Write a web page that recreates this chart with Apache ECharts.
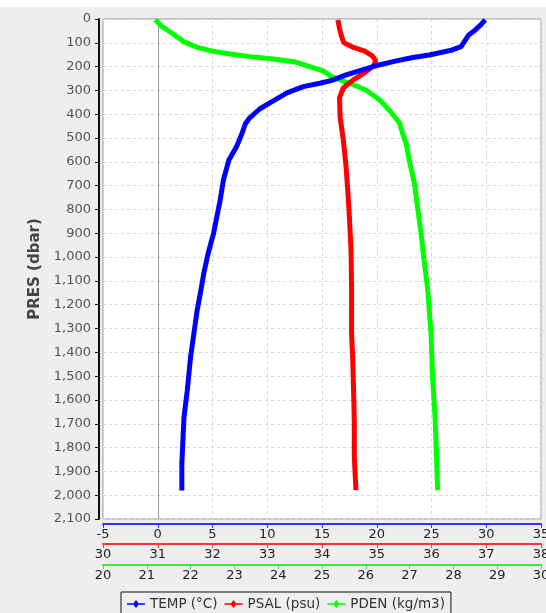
<!DOCTYPE html>
<html><head><meta charset="utf-8">
<script src="https://cdn.jsdelivr.net/npm/echarts@6/dist/echarts.min.js"></script>
<style>
html,body{margin:0;padding:0;background:#fff;}
#c{position:absolute;left:0;top:0;width:546px;height:613px;}
</style></head>
<body>
<div id="c"></div>
<script>
// Pressure (dbar) and values for each profile
const tempPres = [4, 25, 46, 67, 95, 116, 130, 151, 162, 176, 193, 214, 235, 258, 270, 284, 310, 340, 378, 415, 440, 480, 536, 592, 676, 761, 830, 900, 985, 1069, 1150, 1223, 1321, 1419, 1559, 1671, 1769, 1867, 1980];
const tempVals = [29.9, 29.5, 29.0, 28.4, 28.0, 27.7, 26.9, 24.8, 23.3, 21.8, 20.2, 18.7, 17.2, 15.9, 14.8, 13.3, 11.8, 10.7, 9.3, 8.4, 8.0, 7.7, 7.2, 6.5, 6.0, 5.7, 5.4, 5.1, 4.6, 4.2, 3.9, 3.6, 3.3, 3.0, 2.7, 2.4, 2.3, 2.2, 2.2];

const psalPres = [4, 40, 75, 100, 118, 135, 155, 175, 195, 225, 258, 290, 330, 410, 510, 621, 718, 830, 971, 1130, 1321, 1419, 1587, 1699, 1839, 1979];
const psalVals = [34.29, 34.32, 34.36, 34.40, 34.56, 34.78, 34.92, 34.98, 34.95, 34.78, 34.56, 34.39, 34.32, 34.33, 34.39, 34.44, 34.47, 34.50, 34.53, 34.54, 34.54, 34.56, 34.58, 34.59, 34.59, 34.62];

const pdenPres = [3, 32, 60, 95, 119, 133, 147, 158, 168, 181, 198, 218, 244, 270, 298, 340, 390, 437, 480, 521, 592, 690, 789, 900, 1013, 1130, 1321, 1489, 1671, 1811, 1979];
const pdenVals = [21.19, 21.35, 21.58, 21.84, 22.15, 22.45, 22.90, 23.36, 23.89, 24.40, 24.68, 25.02, 25.24, 25.63, 26.00, 26.32, 26.57, 26.77, 26.84, 26.92, 26.99, 27.11, 27.18, 27.26, 27.33, 27.41, 27.49, 27.52, 27.58, 27.61, 27.64];

const presTicks = {min: 0, max: 2100, interval: 100};
const tempAxis = {min: -5, max: 35, interval: 5};
const psalAxis = {min: 30, max: 38, interval: 1};
const pdenAxis = {min: 20, max: 30, interval: 1};
const seriesNames = ['TEMP (°C)', 'PSAL (psu)', 'PDEN (kg/m3)'];

const pair = (vals, pres) => vals.map((v, i) => [v, pres[i]]);
const FONT = 'DejaVu Sans';
const legendIcon = 'path://M0,4.2 L6.5,4.2 L9,1 L11.5,4.2 L18,4.2 L18,5.8 L11.5,5.8 L9,9 L6.5,5.8 L0,5.8 Z';

function xAx(cfg, color, offset, split) {
  return {
    type: 'value', position: 'bottom', offset: offset,
    min: cfg.min, max: cfg.max, interval: cfg.interval,
    axisLine: {show: true, onZero: false, lineStyle: {color: color, width: 2}},
    axisTick: {show: true, length: 4, lineStyle: {color: color, width: 1}},
    axisLabel: {color: '#222', fontFamily: FONT, fontSize: 13, margin: 4, hideOverlap: false},
    splitLine: split ? {show: true, lineStyle: {color: '#d8d8d8', type: [3, 3]}} : {show: false}
  };
}

const chart = echarts.init(document.getElementById('c'), null, {renderer: 'canvas'});
chart.setOption({
  backgroundColor: '#eeeeee',
  animation: false,
  graphic: [{type: 'rect', left: 0, top: 0, z: -10, shape: {width: 546, height: 7}, style: {fill: '#ffffff'}}],
  grid: {left: 103, top: 19, width: 438, height: 500, show: true, backgroundColor: '#ffffff',
         borderColor: '#999999', borderWidth: 1, containLabel: false, outerBoundsMode: 'none'},
  legend: {
    left: 121, top: 592, orient: 'horizontal',
    data: seriesNames, icon: legendIcon, itemWidth: 18, itemHeight: 10, itemGap: 7,
    borderColor: '#111', borderWidth: 1, padding: [5, 6, 8, 6],
    textStyle: {fontFamily: FONT, fontSize: 13.5, color: '#333'}
  },
  xAxis: [
    xAx(tempAxis, '#3333ff', 5, true),
    xAx(psalAxis, '#ff3333', 25, false),
    xAx(pdenAxis, '#33ee33', 46, false)
  ],
  yAxis: {
    type: 'value', inverse: true, min: presTicks.min, max: presTicks.max, interval: presTicks.interval,
    offset: 4,
    name: 'PRES (dbar)', nameLocation: 'middle', nameGap: 51,
    nameTextStyle: {fontFamily: FONT, fontSize: 15, fontWeight: 'bold', color: '#444'},
    axisLine: {show: true, onZero: false, lineStyle: {color: '#111', width: 2}},
    axisTick: {show: true, length: 4, lineStyle: {color: '#111'}},
    axisLabel: {color: '#555', fontFamily: FONT, fontSize: 13, margin: 8,
      formatter: v => v.toLocaleString('en-US')},
    splitLine: {show: true, lineStyle: {color: '#d8d8d8', type: [3, 3]}}
  },
  series: [
    {name: seriesNames[0], type: 'line', xAxisIndex: 0, z: 5, data: pair(tempVals, tempPres),
     symbol: 'none', color: '#0000ff', lineStyle: {width: 5, color: '#0000ff'},
     markLine: {silent: true, symbol: 'none', label: {show: false}, z: 1,
       lineStyle: {color: '#9a9a9a', type: 'solid', width: 1}, data: [{xAxis: 0}]}},
    {name: seriesNames[1], type: 'line', xAxisIndex: 1, z: 4, data: pair(psalVals, psalPres),
     symbol: 'none', color: '#ff0000', lineStyle: {width: 5, color: '#ff0000'}},
    {name: seriesNames[2], type: 'line', xAxisIndex: 2, z: 3, data: pair(pdenVals, pdenPres),
     symbol: 'none', color: '#00ff00', lineStyle: {width: 5, color: '#00ff00'}}
  ]
});
</script>
</body></html>
